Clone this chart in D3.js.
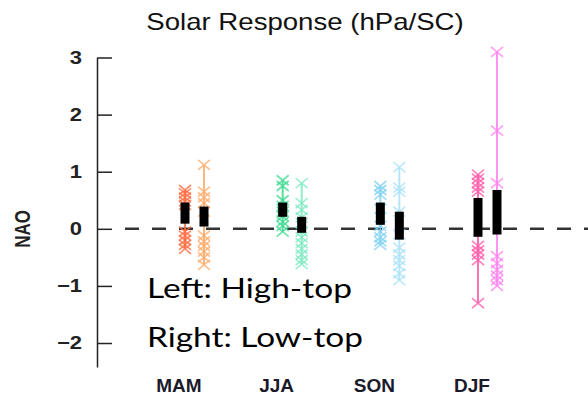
<!DOCTYPE html>
<html>
<head>
<meta charset="utf-8">
<script src="https://cdn.jsdelivr.net/npm/d3@7"></script>
<style>
  body { margin: 0; background: #fff; }
  svg { display: block; }
</style>
</head>
<body>
<svg width="588" height="396"></svg>
<script>
// ---> Data
const seasons = ["MAM", "JJA", "SON", "DJF"];
const yTicks = [-2, -1, 0, 1, 2, 3];

// ensemble members, high-top models (left column)
const highTop = [
    [0.68, 0.62, 0.55, 0.48, 0.42, -0.05, -0.12, -0.2, -0.28, -0.35],
    [0.85, 0.75, 0.5, 0.4, 0.3, 0.22, 0.12, 0.05, -0.05],
    [0.75, 0.68, 0.6, 0.35, 0.05, -0.05, -0.15, -0.22, -0.28],
    [0.95, 0.88, 0.8, 0.72, 0.65, -0.3, -0.38, -0.45, -0.55, -1.3]
];
// ensemble members, low-top models (right column)
const lowTop = [
    [1.12, 0.65, 0.55, 0.45, 0.3, -0.12, -0.22, -0.3, -0.4, -0.5, -0.63],
    [0.8, 0.45, 0.33, 0.2, 0.1, -0.05, -0.15, -0.25, -0.35, -0.45, -0.55, -0.62],
    [1.08, 0.72, 0.65, 0.3, -0.1, -0.33, -0.45, -0.55, -0.65, -0.78, -0.9],
    [3.1, 1.72, 0.8, -0.48, -0.6, -0.72, -0.82, -0.9, -1.0]
];
// black boxes [low, high]
const highTopBox = [[0.09, 0.46], [0.21, 0.46], [0.07, 0.46], [-0.14, 0.54]];
const lowTopBox = [[0.04, 0.39], [-0.07, 0.21], [-0.19, 0.3], [-0.1, 0.68]];

const highTopColors = ["#ff6a3d", "#3ad88c", "#80d2f2", "#ff5aa8"];
const lowTopColors = ["#ffaa66", "#7ee9c0", "#a8e2f7", "#ff80f0"];

// ---> Layout
const svg = d3.select("svg");
const stretch = 1.22;   // the original picture is stretched sideways
const y = d3.scaleLinear().domain([-2.42, 3]).range([367, 57.5]);
const x = d3.scalePoint().domain(seasons).range([194, 487]);
const axisX = 97;

// zero line
svg.append("line")
    .attr("x1", 125).attr("x2", 588)
    .attr("y1", y(0)).attr("y2", y(0))
    .attr("stroke", "#333")
    .attr("stroke-width", 2.5)
    .attr("stroke-dasharray", "14,13");

// y axis
const yAxis = d3.axisLeft(y).tickValues(yTicks).tickSizeInner(-15).tickSizeOuter(0)
    .tickFormat(d => d < 0 ? "\u2212" + Math.abs(d) : d);
const ag = svg.append("g").attr("transform", `translate(${axisX},0)`).call(yAxis);
ag.select(".domain").attr("stroke", "#222").attr("stroke-width", 1.5);
ag.selectAll(".tick line").attr("stroke", "#222").attr("stroke-width", 1.5);
ag.selectAll(".tick text")
    .attr("fill", "#222")
    .style("font", "bold 18px 'Liberation Sans', Arial, sans-serif")
    .attr("transform", `translate(-15,0) scale(${stretch},1)`)
    .attr("x", 0);

svg.append("text")
    .attr("transform", `translate(30,${y(0)}) scale(1.3,1) rotate(-90)`)
    .attr("text-anchor", "middle")
    .style("font", "bold 17px 'Liberation Sans', Arial, sans-serif")
    .attr("fill", "#222")
    .text("NAO");

// title
svg.append("text")
    .attr("transform", `translate(305,30) scale(1.2,1)`)
    .attr("text-anchor", "middle")
    .style("font", "23px 'Liberation Sans', Arial, sans-serif")
    .attr("fill", "#111")
    .text("Solar Response (hPa/SC)");

// ---> Columns
const columns = [];
seasons.forEach((s, i) => {
    columns.push({x: x(s) - 9, vals: highTop[i], box: highTopBox[i], color: highTopColors[i]});
    columns.push({x: x(s) + 10, vals: lowTop[i], box: lowTopBox[i], color: lowTopColors[i]});
});

const col = svg.append("g").selectAll("g")
    .data(columns)
    .enter()
    .append("g");

col.append("line")
    .attr("x1", d => d.x).attr("x2", d => d.x)
    .attr("y1", d => y(d3.max(d.vals))).attr("y2", d => y(d3.min(d.vals)))
    .attr("stroke", d => d.color)
    .attr("stroke-width", 2)
    .attr("opacity", 0.85);

col.each(function (d) {
    d3.select(this).selectAll("path")
        .data(d.vals)
        .enter()
        .append("path")
        .attr("transform", v => `translate(${d.x},${y(v)})`)
        .attr("d", "M-6,-5L6,5M-6,5L6,-5")
        .attr("fill", "none")
        .attr("stroke", d.color)
        .attr("stroke-width", 1.7)
        .attr("opacity", 0.75);
});

col.append("rect")
    .attr("x", d => d.x - 4.5)
    .attr("width", 9)
    .attr("y", d => y(d.box[1]))
    .attr("height", d => y(d.box[0]) - y(d.box[1]))
    .attr("fill", "#000");

// season labels
svg.append("g").selectAll("text")
    .data(seasons)
    .enter()
    .append("text")
    .attr("x", d => x(d) - 15)
    .attr("y", 392)
    .attr("text-anchor", "middle")
    .style("font", "bold 19px 'Liberation Sans', Arial, sans-serif")
    .attr("fill", "#1a1a2a")
    .text(d => d);

// legend note
const notes = ["Left: High-top", "Right: Low-top"];
const noteWidths = [205, 216];
svg.append("g").selectAll("text")
    .data(notes)
    .enter()
    .append("text")
    .attr("x", 147)
    .attr("y", (d, i) => 298 + i * 49)
    .attr("textLength", (d, i) => noteWidths[i])
    .attr("lengthAdjust", "spacingAndGlyphs")
    .style("font", "27px Lato, 'Open Sans', sans-serif")
    .attr("fill", "#000")
    .text(d => d);
</script>
</body>
</html>
